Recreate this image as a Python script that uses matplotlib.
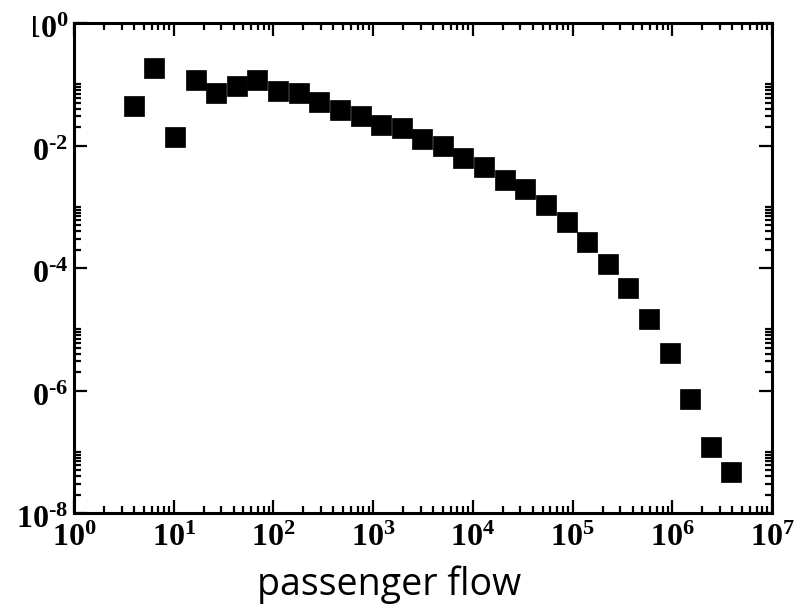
import numpy as np
import matplotlib
matplotlib.use("Agg")
import matplotlib.pyplot as plt
from matplotlib.ticker import FixedLocator, FixedFormatter, NullFormatter
from matplotlib.patches import Rectangle
from matplotlib.transforms import ScaledTranslation

# passenger flow distribution (log-binned)
flow = [4.0, 6.4, 10.3, 16.7, 26.8, 42.9, 69, 112, 181, 288,
        466, 750, 1200, 1935, 3118, 5023, 8035, 13060, 21040, 33580,
        53850, 87500, 141000, 227000, 363000, 586000, 944000,
        1.51e6, 2.43e6, 3.92e6]
prob = [0.0447, 0.182, 0.0139, 0.117, 0.0711, 0.0936, 0.117, 0.0776, 0.0711, 0.0519,
        0.0380, 0.0303, 0.0214, 0.0191, 0.0129, 0.00982, 0.00632, 0.00451, 0.00277, 0.00193,
        0.00106, 5.71e-4, 2.63e-4, 1.18e-4, 4.77e-5, 1.47e-5, 4.05e-6,
        7.26e-7, 1.21e-7, 4.72e-8]

x_major = [10.0**k for k in range(0, 8)]
x_labels = [r"$10^{%d}$" % k for k in range(0, 8)]
y_major = [10.0**k for k in range(-8, 1, 2)]
y_labels = [r"$10^{\text{-}%d}$" % -k if k < 0 else r"$10^{%d}$" % k
            for k in range(-8, 1, 2)]

plt.rcParams["mathtext.fontset"] = "custom"
plt.rcParams["mathtext.rm"] = "Liberation Serif:bold"
plt.rcParams["mathtext.it"] = "Liberation Serif:bold"
plt.rcParams["mathtext.bf"] = "Liberation Serif:bold"
plt.rcParams["font.family"] = "Liberation Serif"
plt.rcParams["font.weight"] = "bold"

fig = plt.figure(figsize=(7.96, 6.10), dpi=100)
ax = fig.add_axes([74 / 796, 1 - 513 / 610, 698 / 796, 490 / 610])

ax.plot(flow, prob, linestyle="none", marker="s", markersize=14.4,
        color="black", markeredgewidth=0.5)

ax.set_xscale("log")
ax.set_yscale("log")
ax.set_xlim(1, 1e7)
ax.set_ylim(1e-8, 1)

# grace-style ticks: y majors every two decades, minors only above each major
ax.xaxis.set_major_locator(FixedLocator(x_major))
ax.xaxis.set_major_formatter(FixedFormatter(x_labels))
ax.xaxis.set_minor_locator(FixedLocator(
    [k * 10.0**m for m in range(0, 7) for k in range(2, 10)]))
ax.xaxis.set_minor_formatter(NullFormatter())
ax.yaxis.set_major_locator(FixedLocator(y_major))
ax.yaxis.set_major_formatter(FixedFormatter(y_labels))
ax.yaxis.set_minor_locator(FixedLocator(
    [k * 10.0**m for m in range(-8, 0, 2) for k in range(2, 11)]))
ax.yaxis.set_minor_formatter(NullFormatter())

ax.tick_params(which="both", direction="in", top=True, right=True, width=1.6)
ax.tick_params(which="major", length=9.4, labelsize=23)
ax.tick_params(axis="x", which="major", pad=8)
ax.tick_params(axis="y", which="major", pad=4)
ax.tick_params(which="minor", length=4.7)
for s in ax.spines.values():
    s.set_linewidth(2.2)

# y labels sit a little below their ticks
shift = ScaledTranslation(0, -3 / 72, fig.dpi_scale_trans)
for lab in ax.get_yticklabels():
    lab.set_transform(lab.get_transform() + shift)

fig.text(389.5 / 796, 1 - 595 / 610, "passenger flow", ha="center",
         va="baseline", fontsize=27, family="Open Sans", weight="normal")

# white strip over the left margin
fig.add_artist(Rectangle((0, 1 - 497 / 610), 33 / 796, 497 / 610,
                         transform=fig.transFigure, facecolor="white",
                         edgecolor="none", zorder=10))

fig.savefig("out.png", dpi=100)
